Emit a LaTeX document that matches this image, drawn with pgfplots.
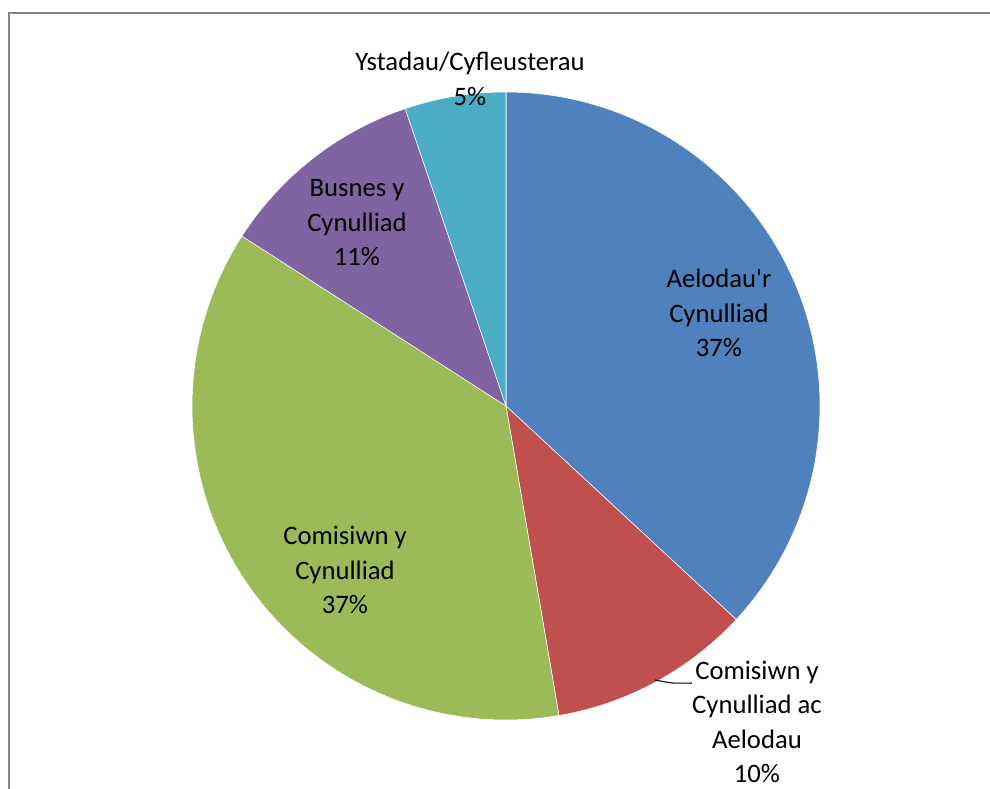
\documentclass[border=0pt]{standalone}
\usepackage{pgfplots}
\pgfplotsset{compat=1.18}
\usepackage{fontspec}
\setmainfont{Carlito}
\definecolor{cA}{HTML}{4F81BD}
\definecolor{cB}{HTML}{C0504D}
\definecolor{cC}{HTML}{9BBB59}
\definecolor{cD}{HTML}{8064A2}
\definecolor{cE}{HTML}{4BACC6}
\definecolor{frame}{HTML}{868686}
% shares (percent), clockwise from 12 o'clock
\def\vA{36.9}% Aelodau'r Cynulliad
\def\vB{10.4}% Comisiwn y Cynulliad ac Aelodau
\def\vC{36.8}% Comisiwn y Cynulliad
\def\vD{10.7}% Busnes y Cynulliad
\def\vE{5.2}%  Ystadau/Cyfleusterau
\pgfmathsetmacro\aA{90}
\pgfmathsetmacro\aB{\aA-3.6*\vA}
\pgfmathsetmacro\aC{\aB-3.6*\vB}
\pgfmathsetmacro\aD{\aC-3.6*\vC}
\pgfmathsetmacro\aE{\aD-3.6*\vD}
\pgfmathsetmacro\aF{\aE-3.6*\vE}
\begin{document}
\begin{tikzpicture}
\begin{axis}[width=742.5pt,height=591.75pt,scale only axis,
  xmin=0,xmax=990,ymin=0,ymax=789,y dir=reverse,hide axis,clip=false]
\addplot[draw=white,line width=0.4pt,fill=cA,domain=\aB:\aA,samples=90,variable=\t] ({506+314*cos(\t)},{406-314*sin(\t)}) -- (axis cs:506,406) -- cycle;
\addplot[draw=white,line width=0.4pt,fill=cB,domain=\aC:\aB,samples=40,variable=\t] ({506+314*cos(\t)},{406-314*sin(\t)}) -- (axis cs:506,406) -- cycle;
\addplot[draw=white,line width=0.4pt,fill=cC,domain=\aD:\aC,samples=90,variable=\t] ({506+314*cos(\t)},{406-314*sin(\t)}) -- (axis cs:506,406) -- cycle;
\addplot[draw=white,line width=0.4pt,fill=cD,domain=\aE:\aD,samples=40,variable=\t] ({506+314*cos(\t)},{406-314*sin(\t)}) -- (axis cs:506,406) -- cycle;
\addplot[draw=white,line width=0.4pt,fill=cE,domain=\aF:\aE,samples=30,variable=\t] ({506+314*cos(\t)},{406-314*sin(\t)}) -- (axis cs:506,406) -- cycle;
\addplot[black,line width=0.8pt,smooth] coordinates {(655,680)(673,683)(692,683)};
\addplot[frame,line width=1.8pt] coordinates {(9,789)(9,13)(990,13)};
\begin{scope}[every node/.style={align=center,font=\fontsize{20}{25.9}\selectfont,inner sep=0pt}]
\node at (axis cs:719,313) {Aelodau\textquotesingle r\\Cynulliad\\37\%};
\node at (axis cs:757,722) {Comisiwn y\\Cynulliad ac\\Aelodau\\10\%};
\node at (axis cs:345,570) {Comisiwn y\\Cynulliad\\37\%};
\node at (axis cs:357,223) {Busnes y\\Cynulliad\\11\%};
\node at (axis cs:470,79) {Ystadau/Cyfleusterau\\5\%};
\end{scope}
\end{axis}
\pgfresetboundingbox
\useasboundingbox (current axis.south west) rectangle (current axis.north east);
\end{tikzpicture}
\end{document}
